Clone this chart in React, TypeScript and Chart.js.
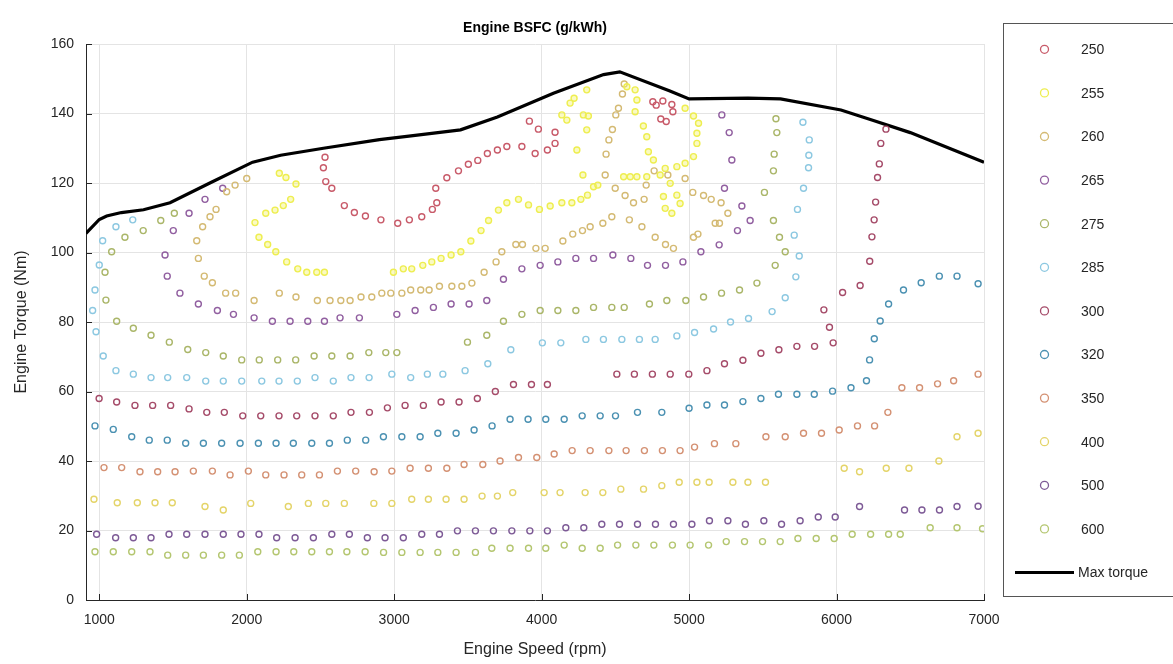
import React, { useEffect, useRef } from "react";
import { Chart, registerables } from "chart.js";

Chart.register(...registerables);

// ---- Data (rpm, Nm) ----
const contourLabels = ["250", "255", "260", "265", "275", "285", "300", "320", "350", "400", "500", "600"];
const contourColors = [
  "rgb(200,90,105)", "rgb(238,238,80)", "rgb(212,186,115)", "rgb(145,95,160)",
  "rgb(170,182,105)", "rgb(140,200,225)", "rgb(165,75,105)", "rgb(75,145,178)",
  "rgb(212,145,115)", "rgb(228,212,105)", "rgb(125,90,150)", "rgb(180,198,112)",
];

const xTicks = [1000, 2000, 3000, 4000, 5000, 6000, 7000];
const yTicks = [0, 20, 40, 60, 80, 100, 120, 140, 160];

const s250 = [[2531,127.4],[2520,124.4],[2536,120.4],[2577,118.5],[2662,113.5],[2730,111.5],[2805,110.5],[2910,109.4],[3024,108.4],[3103,109.4],[3187,110.3],[3259,112.4],[3289,114.3],[3282,118.5],[3357,121.5],[3436,123.5],[3503,125.4],[3567,126.5],[3632,128.5],[3700,129.5],[3764,130.5],[3866,130.5],[3956,128.5],[4039,129.5],[4091,131.4],[4091,134.6],[3978,135.5],[3917,137.8],[4754,143.4],[4777,142.4],[4822,143.6],[4883,142.6],[4890,140.5],[4808,138.4],[4845,137.7]];
const s255 = [[2056,108.6],[2129,111.3],[2192,112.2],[2248,113.5],[2298,115.3],[2334,119.7],[2266,121.6],[2221,122.8],[2083,104.4],[2142,102.3],[2197,100.2],[2271,97.3],[2346,95.3],[2407,94.3],[2475,94.3],[2527,94.3],[2995,94.3],[3062,95.3],[3119,95.3],[3194,96.3],[3255,97.3],[3318,98.3],[3386,99.3],[3452,100.2],[3520,103.3],[3589,106.3],[3640,109.2],[3707,112.2],[3764,114.3],[3843,115.3],[3911,113.7],[3985,112.4],[4058,113.4],[4137,114.3],[4205,114.3],[4266,115.3],[4311,116.5],[4352,118.9],[4381,119.4],[4137,139.6],[4171,138.1],[4283,139.6],[4317,139.3],[4306,135.3],[4239,129.5],[4280,122.3],[4193,143],[4306,146.8],[4220,144.4],[4578,147.7],[4634,146.8],[4646,143.9],[4634,140.5],[4690,136.4],[4713,133.3],[4724,129],[4758,126.6],[4804,122.3],[4556,121.8],[4601,121.8],[4646,121.8],[4713,121.8],[4973,141.5],[5030,139.3],[5064,137.2],[5053,134.3],[5053,131.4],[5030,127.6],[4973,125.7],[4917,124.7],[4838,124.2],[4872,119.9],[4917,116.5],[4939,114.1],[4883,111.3],[4838,112.7],[4826,116.1]];
const s260 = [[2000,121.3],[1921,119.4],[1864,117.5],[1792,112.4],[1751,110.3],[1701,107.4],[1661,103.4],[1672,98.3],[1712,93.2],[1767,91.3],[1857,88.3],[1925,88.3],[2050,86.2],[2221,88.3],[2334,87.2],[2479,86.2],[2565,86.2],[2638,86.2],[2701,86.2],[2775,87.2],[2848,87.2],[2916,88.3],[2977,88.3],[3052,88.3],[3112,89.2],[3180,89.2],[3237,89.2],[3307,90.3],[3391,90.3],[3459,90.3],[3527,91.2],[3610,94.3],[3691,97.3],[3730,100.2],[3825,102.3],[3870,102.3],[3961,101.2],[4024,101.2],[4144,103.3],[4211,105.3],[4277,106.3],[4329,107.4],[4415,108.4],[4476,110.3],[4595,109.4],[4680,107.4],[4770,104.4],[4840,102.3],[4894,101.2],[5030,104.4],[5060,105.3],[5177,108.4],[5206,108.4],[5263,111.3],[5217,114.3],[5150,115.3],[5098,116.4],[5025,117.3],[4973,121.3],[4560,148.5],[4548,145.6],[4521,141.5],[4503,139.6],[4480,135.4],[4456,132.4],[4437,128.3],[4431,122.3],[4499,118.5],[4566,116.4],[4623,114.3],[4695,115.3],[4709,119.4],[4763,123.5],[4856,122.3]];
const s265 = [[1837,118.5],[1717,115.3],[1609,111.3],[1502,106.3],[1446,99.3],[1461,93.2],[1547,88.3],[1672,85.2],[1801,83.3],[1910,82.2],[2050,81.2],[2174,80.2],[2294,80.2],[2414,80.2],[2527,80.2],[2633,81.2],[2764,81.2],[3018,82.2],[3142,83.3],[3266,84.2],[3386,85.2],[3508,85.2],[3628,86.2],[3741,92.3],[3866,95.3],[3990,96.3],[4110,97.3],[4232,98.3],[4352,98.3],[4483,99.3],[4605,98.3],[4718,96.3],[4840,96.3],[4958,97.3],[5080,100.2],[5204,102.2],[5328,106.3],[5414,109.2],[5358,113.4],[5240,118.5],[5290,126.6],[5272,134.5],[5222,139.6]];
const s275 = [[1509,111.3],[1417,109.2],[1298,106.3],[1174,104.4],[1084,100.2],[1039,94.3],[1045,86.3],[1118,80.2],[1231,78.2],[1351,76.2],[1475,74.2],[1600,72.1],[1722,71.2],[1841,70.2],[1966,69.1],[2085,69.1],[2210,69.1],[2332,69.1],[2457,70.2],[2577,70.2],[2701,70.2],[2828,71.2],[2943,71.2],[3018,71.2],[3497,74.2],[3628,76.2],[3741,80.2],[3866,82.2],[3990,83.3],[4110,83.3],[4232,83.3],[4352,84.2],[4476,84.2],[4560,84.2],[4731,85.2],[4849,86.2],[4978,86.2],[5098,87.2],[5220,88.3],[5342,89.2],[5460,91.2],[5584,96.3],[5652,100.2],[5613,104.4],[5572,109.2],[5511,117.3],[5572,123.5],[5577,128.3],[5595,134.5],[5589,138.5]];
const s285 = [[1227,109.4],[1113,107.4],[1023,103.4],[1000,96.4],[971,89.2],[955,83.3],[978,77.2],[1027,70.2],[1113,66],[1231,65],[1351,64],[1464,64],[1593,64],[1722,63],[1841,63],[1966,63],[2102,63],[2219,63],[2343,63],[2463,64],[2587,63],[2707,64],[2830,64],[2984,65],[3112,64],[3225,65],[3330,65],[3481,66],[3635,68],[3791,72],[4005,74],[4130,74],[4300,75],[4419,75],[4544,75],[4663,75],[4770,75],[4917,76],[5037,77],[5166,78],[5281,80],[5403,81],[5563,83],[5652,87],[5724,93],[5747,99],[5713,105],[5735,112.4],[5776,118.5],[5810,124.4],[5812,128],[5815,132.4],[5772,137.5]];
const s300 = [[999,58],[1118,57],[1242,56],[1362,56],[1484,56],[1609,55],[1729,54],[1848,54],[1973,53],[2095,53],[2219,53],[2339,53],[2463,53],[2587,53],[2707,54],[2832,54],[2954,55.3],[3074,56],[3198,56],[3318,57],[3440,57],[3564,58],[3686,60],[3809,62],[3931,62],[4039,62],[4510,65],[4629,65],[4751,65],[4872,65],[4998,65],[5121,66],[5240,68],[5365,69],[5487,71],[5609,72],[5731,73],[5851,73],[5977,74],[5952,78.5],[5914,83.5],[6041,88.5],[6160,90.5],[6225,97.5],[6240,104.5],[6255,109.4],[6265,114.5],[6278,121.6],[6290,125.5],[6300,131.4],[6335,135.5]];
const s320 = [[971,50.1],[1095,49.1],[1220,47],[1339,46],[1461,46],[1586,45.1],[1706,45.1],[1830,45.1],[1955,45.1],[2079,45.1],[2199,45.1],[2316,45.1],[2441,45.1],[2561,45.1],[2682,46],[2807,46],[2927,47],[3052,47],[3176,47],[3296,48],[3420,48],[3542,48.9],[3664,50.1],[3786,52],[3908,52],[4028,52],[4153,52],[4275,53],[4397,53],[4501,53],[4650,54],[4815,54],[5000,55.2],[5121,56.1],[5240,56.1],[5365,57.1],[5487,58],[5606,59.2],[5731,59.2],[5849,59.2],[5973,60.1],[6098,61.1],[6203,63.1],[6224,69.1],[6256,75.2],[6296,80.3],[6353,85.2],[6454,89.2],[6574,91.3],[6697,93.2],[6817,93.2],[6960,91]];
const s350 = [[1032,38.1],[1152,38.1],[1276,36.9],[1396,36.9],[1514,36.9],[1638,37.1],[1767,37.1],[1887,36],[2011,37.1],[2129,36],[2253,36],[2373,36],[2493,36],[2615,37.1],[2739,37.1],[2864,36.9],[2984,37.1],[3108,37.9],[3232,37.9],[3357,37.9],[3474,39],[3601,39],[3718,40],[3843,41],[3967,41],[4085,42],[4207,43],[4329,43],[4456,43],[4573,43],[4697,43],[4819,43],[4939,43],[5037,44],[5172,45],[5317,45],[5521,47],[5652,47],[5776,48],[5898,48],[6018,48.9],[6142,50.1],[6258,50.1],[6348,54],[6443,61.1],[6563,61.1],[6685,62.2],[6794,63.1],[6960,65]];
const s400 = [[964,29],[1122,28],[1258,28],[1378,28],[1495,28],[1717,26.9],[1841,25.9],[2027,27.8],[2282,26.9],[2418,27.8],[2536,27.8],[2662,27.8],[2862,27.8],[2984,27.8],[3119,29],[3232,29],[3352,29],[3474,29],[3596,29.9],[3700,29.9],[3804,30.9],[4017,30.9],[4125,30.9],[4295,30.9],[4415,30.9],[4537,31.9],[4691,31.9],[4815,32.9],[4933,33.9],[5053,33.9],[5136,33.9],[5297,33.9],[5399,33.9],[5518,33.9],[6052,37.9],[6156,36.9],[6337,37.9],[6491,37.9],[6694,40],[6817,47],[6960,48]];
const s500 = [[982,18.9],[1111,17.9],[1231,17.9],[1351,17.9],[1473,18.9],[1593,18.9],[1717,18.9],[1841,18.9],[1961,18.9],[2083,18.9],[2203,17.9],[2328,17.9],[2452,17.9],[2577,18.9],[2696,18.9],[2818,17.9],[2938,17.9],[3062,17.9],[3187,18.9],[3307,18.9],[3429,19.9],[3551,19.9],[3673,19.9],[3798,19.9],[3920,19.9],[4039,19.9],[4164,20.8],[4286,20.8],[4408,21.8],[4528,21.8],[4650,21.8],[4772,21.8],[4894,21.8],[5019,21.8],[5138,22.8],[5263,22.8],[5382,21.8],[5507,22.8],[5627,21.8],[5753,22.8],[5876,23.9],[5991,23.9],[6156,26.9],[6461,25.9],[6579,25.9],[6698,25.9],[6817,26.9],[6960,27]];
const s600 = [[971,13.9],[1095,13.9],[1220,13.9],[1344,13.9],[1464,12.9],[1586,12.9],[1706,12.9],[1830,12.9],[1950,12.9],[2075,13.9],[2199,13.9],[2319,13.9],[2441,13.9],[2561,13.9],[2679,13.9],[2803,13.9],[2928,13.7],[3052,13.7],[3176,13.7],[3296,13.7],[3420,13.7],[3551,13.7],[3662,14.9],[3786,14.9],[3911,14.9],[4028,14.9],[4153,15.8],[4275,14.9],[4397,14.9],[4515,15.8],[4639,15.8],[4761,15.8],[4887,15.8],[5007,15.8],[5132,15.8],[5252,16.8],[5376,16.8],[5498,16.8],[5618,16.8],[5738,17.7],[5862,17.7],[5984,17.7],[6106,18.9],[6231,18.9],[6353,18.9],[6432,18.9],[6635,20.8],[6817,20.8],[6990,20.5]];

const maxTorqueRpm = [910, 1000, 1050, 1150, 1300, 1480, 1750, 2040, 2230, 2520, 2900, 3100, 3450, 3700, 4080, 4420, 4530, 4870, 5000, 5400, 5620, 6030, 6250, 6500, 7000];
const maxTorqueNm = [105.5, 109.5, 110.5, 111.5, 112.3, 114.3, 120, 126, 128, 130, 132.5, 133.5, 135.3, 139, 145.8, 151.2, 152, 146.5, 144.2, 144.4, 144.2, 141, 138, 134.5, 126];

const contourSeries = [s250, s255, s260, s265, s275, s285, s300, s320, s350, s400, s500, s600];

const FONT = "'Liberation Sans', Arial, Helvetica, sans-serif";
const TEXT = "#262626";

const framePlugin = {
  id: "frameTicks",
  afterDraw(chart: any) {
    const { ctx, chartArea } = chart;
    const xs = chart.scales.x;
    const ys = chart.scales.y;
    ctx.save();
    ctx.strokeStyle = TEXT;
    ctx.lineWidth = 1;
    ctx.beginPath();
    xTicks.forEach((v) => {
      const px = Math.round(xs.getPixelForValue(v)) + 0.5;
      ctx.moveTo(px, chartArea.bottom);
      ctx.lineTo(px, chartArea.bottom - 6);
    });
    yTicks.forEach((v) => {
      const py = Math.round(ys.getPixelForValue(v)) + 0.5;
      ctx.moveTo(chartArea.left, py);
      ctx.lineTo(chartArea.left + 6, py);
    });
    ctx.stroke();
    ctx.restore();
  },
};

const legendPlugin = {
  id: "boxLegend",
  afterDraw(chart: any) {
    const { ctx } = chart;
    const left = 1003.5;
    const top = 23.5;
    const bottom = 596.5;
    ctx.save();
    ctx.fillStyle = "#ffffff";
    ctx.fillRect(left, top, 200, bottom - top);
    ctx.strokeStyle = "#555555";
    ctx.lineWidth = 1;
    ctx.strokeRect(left, top, 200, bottom - top);
    const rowStart = 49.3;
    const step = 43.6;
    ctx.font = `14px ${FONT}`;
    ctx.textBaseline = "middle";
    ctx.textAlign = "left";
    chart.data.datasets.forEach((ds: any, i: number) => {
      const y = rowStart + i * step;
      if (ds.showLine) {
        ctx.strokeStyle = "#000";
        ctx.lineWidth = 3;
        ctx.beginPath();
        ctx.moveTo(1015, y);
        ctx.lineTo(1074, y);
        ctx.stroke();
        ctx.fillStyle = TEXT;
        ctx.fillText(ds.label, 1078, y + 1);
      } else {
        ctx.strokeStyle = ds.borderColor;
        ctx.lineWidth = 1.3;
        ctx.beginPath();
        ctx.arc(1044.5, y, 4, 0, Math.PI * 2);
        ctx.stroke();
        ctx.fillStyle = TEXT;
        ctx.fillText(ds.label, 1081, y + 1);
      }
    });
    ctx.restore();
  },
};

export default function App() {
  const ref = useRef<HTMLCanvasElement | null>(null);

  useEffect(() => {
    if (!ref.current) return;
    Chart.defaults.font.family = FONT;
    const datasets: any[] = contourSeries.map((s, i) => ({
      label: contourLabels[i],
      data: s,
      showLine: false,
      pointStyle: "circle",
      pointRadius: 3,
      pointBorderWidth: 1.4,
      borderColor: contourColors[i],
      backgroundColor: i === 1 ? "rgba(245,245,120,0.45)" : "rgba(0,0,0,0)",
      pointBackgroundColor: i === 1 ? "rgba(245,245,120,0.45)" : "rgba(0,0,0,0)",
    }));
    datasets.push({
      label: "Max torque",
      data: maxTorqueRpm.map((r, i) => [r, maxTorqueNm[i]]),
      showLine: true,
      borderColor: "#000000",
      borderWidth: 3.2,
      pointRadius: 0,
      tension: 0,
    });

    const chart = new Chart(ref.current, {
      type: "scatter",
      data: { datasets },
      options: {
        responsive: false,
        animation: false,
        layout: { padding: { left: 0, right: 189, top: 0, bottom: 0 } },
        plugins: {
          legend: { display: false },
          tooltip: { enabled: false },
          title: {
            display: true,
            text: "Engine BSFC (g/kWh)",
            fullSize: false,
            color: "#000",
            font: { size: 14, weight: "bold", family: FONT, lineHeight: 1.2 },
            padding: { top: 19.6, bottom: 7.6 },
          },
        },
        scales: {
          x: {
            type: "linear",
            min: 910,
            max: 7000,
            afterBuildTicks: (s: any) => {
              s.ticks = xTicks.map((v) => ({ value: v }));
            },
            afterFit: (s: any) => {
              s.height = 64;
            },
            grid: { color: "#e4e4e4", drawTicks: false, lineWidth: 1 },
            border: { color: TEXT, width: 1 },
            ticks: {
              padding: 12,
              color: TEXT,
              font: { size: 14, family: FONT },
              maxRotation: 0,
              autoSkip: false,
              callback: (v: any) => String(v),
            },
            title: {
              display: true,
              text: "Engine Speed (rpm)",
              color: TEXT,
              font: { size: 16, family: FONT, lineHeight: 1.2 },
              padding: { top: 0, bottom: 4.4 },
            },
          },
          y: {
            type: "linear",
            min: 0,
            max: 160,
            afterBuildTicks: (s: any) => {
              s.ticks = yTicks.map((v) => ({ value: v }));
            },
            afterFit: (s: any) => {
              s.width = 86;
            },
            grid: { color: "#e4e4e4", drawTicks: false, lineWidth: 1 },
            border: { color: TEXT, width: 1 },
            ticks: {
              padding: 12,
              color: TEXT,
              font: { size: 14, family: FONT },
              autoSkip: false,
              callback: (v: any) => String(v),
            },
            title: {
              display: true,
              text: "Engine Torque (Nm)",
              color: TEXT,
              font: { size: 16, family: FONT, lineHeight: 1.2 },
              padding: { top: 12.4, bottom: 0 },
            },
          },
        },
      },
      plugins: [framePlugin, legendPlugin],
    } as any);

    return () => chart.destroy();
  }, []);

  return (
    <div style={{ position: "absolute", left: 0, top: 0, width: 1173, height: 664, background: "#fff" }}>
      <canvas ref={ref} width={1173} height={664} style={{ display: "block" }} />
    </div>
  );
}
